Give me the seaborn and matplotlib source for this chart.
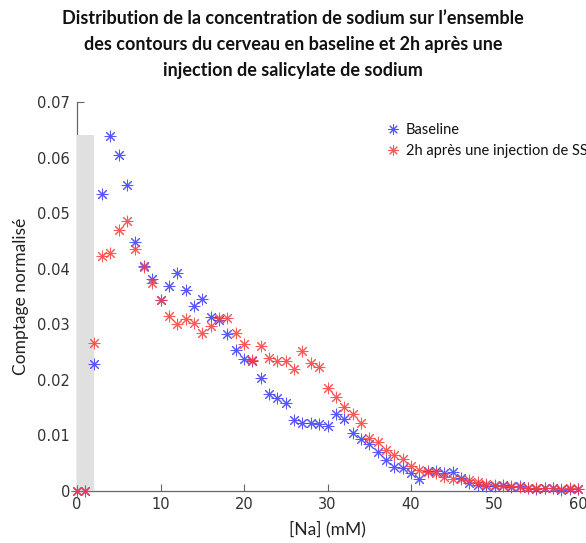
import numpy as np
import pandas as pd
import matplotlib
matplotlib.use("Agg")
import matplotlib.pyplot as plt
from matplotlib.patches import Rectangle
from matplotlib.lines import Line2D
import seaborn as sns

# ---- data ----
na_mM = list(range(0, 61))
baseline = [0.0, 0.0, 0.0228, 0.0534, 0.0638, 0.0604, 0.0550, 0.0448, 0.0404, 0.0381,
            0.0344, 0.0368, 0.0393, 0.0361, 0.0333, 0.0345, 0.0313, 0.0308, 0.0282, 0.0254,
            0.0237, 0.0234, 0.0204, 0.0174, 0.0167, 0.0159, 0.0128, 0.0123, 0.0122, 0.0120,
            0.0117, 0.0138, 0.0129, 0.0105, 0.0093, 0.0084, 0.0070, 0.0056, 0.0044, 0.0041,
            0.0032, 0.0022, 0.0036, 0.0036, 0.0032, 0.0034, 0.0023, 0.0014, 0.0010, 0.0009,
            0.0009, 0.0010, 0.0008, 0.0009, 0.0005, 0.0004, 0.0006, 0.0006, 0.0001, 0.0004,
            0.0004]
post_ss = [0.0, 0.0, 0.0267, 0.0423, 0.0429, 0.0470, 0.0486, 0.0435, 0.0403, 0.0375,
           0.0344, 0.0315, 0.0300, 0.0309, 0.0303, 0.0285, 0.0297, 0.0312, 0.0312, 0.0285,
           0.0264, 0.0236, 0.0261, 0.0240, 0.0234, 0.0234, 0.0219, 0.0252, 0.0230, 0.0224,
           0.0186, 0.0169, 0.0151, 0.0138, 0.0122, 0.0095, 0.0089, 0.0074, 0.0065, 0.0058,
           0.0045, 0.0038, 0.0035, 0.0032, 0.0026, 0.0022, 0.0022, 0.0019, 0.0016, 0.0012,
           0.0010, 0.0009, 0.0009, 0.0008, 0.0005, 0.0006, 0.0006, 0.0005, 0.0004, 0.0005,
           0.0003]
series_names = ["Baseline", "2h après une injection de SS"]
series_colors = ["#3a3aff", "#ff3a3a"]
shade_x = [0, 2]
shade_top = 0.064
x_ticks = [0, 10, 20, 30, 40, 50, 60]
y_ticks = [0, 0.01, 0.02, 0.03, 0.04, 0.05, 0.06, 0.07]
y_tick_labels = ["0", "0.01", "0.02", "0.03", "0.04", "0.05", "0.06", "0.07"]

df = pd.DataFrame({
    "Na": na_mM * 2,
    "val": baseline + post_ss,
    "series": [series_names[0]] * len(na_mM) + [series_names[1]] * len(na_mM),
})

sns.set_theme(style="white")
plt.rcParams["font.family"] = ["Lato", "DejaVu Sans"]

fig = plt.figure(figsize=(5.86, 5.43), dpi=100)
ax = fig.add_axes([77 / 586, 52 / 543, 501 / 586, 389 / 543])

ast = (8, 2, 0)
for name, col in zip(series_names, series_colors):
    sub = df[df["series"] == name]
    sns.scatterplot(data=sub, x="Na", y="val", ax=ax, marker=ast, color=col,
                    s=60, linewidth=0.75, alpha=0.85, clip_on=False, zorder=4,
                    legend=False)

ax.add_patch(Rectangle((shade_x[0], 0), shade_x[1] - shade_x[0], shade_top,
                       facecolor="#e0e0e0", edgecolor="none", zorder=3))

ax.set_xlim(0, 60)
ax.set_ylim(0, 0.07)
ax.set_xticks(x_ticks)
ax.set_yticks(y_ticks)
ax.set_yticklabels(y_tick_labels)
for side in ["top", "right"]:
    ax.spines[side].set_visible(False)
for side in ["left", "bottom"]:
    ax.spines[side].set_color("#666666")
    ax.spines[side].set_linewidth(0.9)
    ax.spines[side].set_zorder(2)
ax.tick_params(axis="both", direction="in", length=5, width=0.8, color="#666666",
               labelsize=10.5, labelcolor="#333333", left=True, bottom=True)
for lab in ax.get_xticklabels() + ax.get_yticklabels():
    lab.set_fontfamily("DejaVu Sans")
ax.tick_params(axis="y", pad=5)
ax.tick_params(axis="x", pad=4)
ax.set_xlabel("[Na] (mM)", fontsize=12.5, color="#222222", labelpad=7)
ax.set_ylabel("Comptage normalisé", fontsize=12.5, color="#222222", labelpad=6)

fig.suptitle("Distribution de la concentration de sodium sur l’ensemble\n"
             "des contours du cerveau en baseline et 2h après une\n"
             "injection de salicylate de sodium",
             x=0.5, y=0.982, fontsize=13, fontweight="bold", linespacing=1.65,
             color="#111111")

handles = [Line2D([], [], linestyle="", marker=ast, color=c, markersize=7.5,
                  markeredgewidth=0.75, alpha=0.85)
           for c in series_colors]
leg = ax.legend(handles, series_names, loc="upper left", bbox_to_anchor=(0.605, 0.962),
                frameon=False, fontsize=10.5, handlelength=0.9, handletextpad=0.45,
                labelspacing=0.5, borderaxespad=0)
for t in leg.get_texts():
    t.set_color("#111111")

fig.savefig("out.png", dpi=100, facecolor="white")
